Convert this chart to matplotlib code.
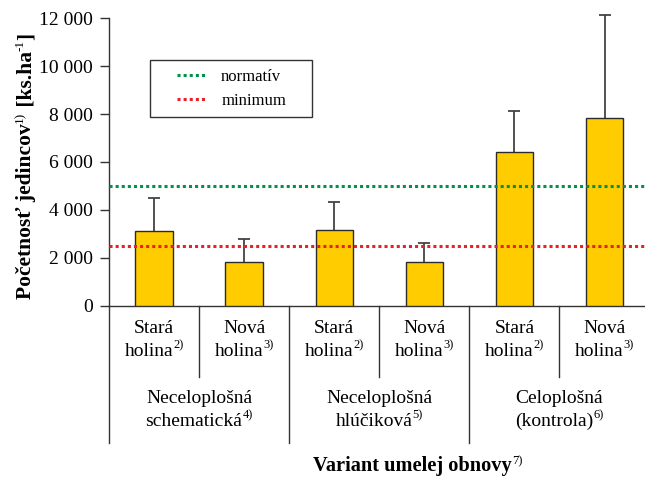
import matplotlib
matplotlib.use("Agg")
import matplotlib.pyplot as plt
from matplotlib.patches import Rectangle
import numpy as np

plt.rcParams['font.family'] = ['Liberation Serif', 'DejaVu Serif']

# ---- data ----
sub_line1 = ["Stará", "Nová", "Stará", "Nová", "Stará", "Nová"]
sub_line2 = ["holina", "holina", "holina", "holina", "holina", "holina"]
sub_sup = ["2)", "3)", "2)", "3)", "2)", "3)"]
group_line1 = ["Neceloplošná", "Neceloplošná", "Celoplošná"]
group_line2 = ["schematická", "hlúčiková", "(kontrola)"]
group_sup = ["4)", "5)", "6)"]
values = [3120, 1820, 3180, 1820, 6420, 7850]
upper_err = [1370, 980, 1170, 790, 1690, 4290]
normativ = 5000
minimum = 2500
yticks = [0, 2000, 4000, 6000, 8000, 10000, 12000]
ytick_labels = ["0", "2 000", "4 000", "6 000", "8 000", "10 000", "12 000"]
legend_labels = ["normatív", "minimum"]
ylabel_pieces = [("Početnosť jedincov", False), ("1)", True), (" [ks.ha", False),
                 ("-1", True), ("]", False)]
xlabel_pieces = [("Variant umelej obnovy", False), ("7)", True)]

W, H = 645, 482
fig = plt.figure(figsize=(W / 100, H / 100), dpi=100)
ax = fig.add_axes([109 / W, 176 / H, 536 / W, 288 / H])
renderer = fig.canvas.get_renderer()

x = np.arange(len(values))
ax.bar(x, values, width=0.416, color='#FFCC00', edgecolor='#2b2b2b',
       linewidth=1.0, zorder=3)
eb = ax.errorbar(x, values, yerr=[np.zeros(len(values)), upper_err], fmt='none',
                 ecolor='#444444', elinewidth=1.3, capsize=4.3, capthick=1.3,
                 zorder=2)
for child in eb.get_children():
    child.set_clip_on(False)
for cl in eb[1]:
    if np.allclose(cl.get_ydata(), values):
        cl.set_visible(False)

ax.axhline(normativ, color='#00924A', linestyle=(0, (1, 1)), linewidth=2.2,
           dash_capstyle='butt', zorder=4, label=legend_labels[0])
ax.axhline(minimum, color='#E8202A', linestyle=(0, (1, 1)), linewidth=2.2,
           dash_capstyle='butt', zorder=4, label=legend_labels[1])

ax.set_xlim(-0.5, 5.449)
ax.set_ylim(0, 12000)
ax.set_yticks(yticks)
ax.set_yticklabels(ytick_labels)
ax.set_xticks([])
ax.tick_params(axis='y', direction='out', length=6.5, width=1.0, pad=5,
               labelsize=14, color='#333333')
for s in ['top', 'right']:
    ax.spines[s].set_visible(False)
for s in ['left', 'bottom']:
    ax.spines[s].set_color('#333333')
    ax.spines[s].set_linewidth(1.0)

tr = ax.get_xaxis_transform()
for xs in [-0.5, 1.5, 3.5]:
    ax.plot([xs, xs], [0, -0.476], transform=tr, color='#333333', lw=1.0,
            clip_on=False)
for xs in [0.5, 2.5, 4.5]:
    ax.plot([xs, xs], [0, -0.2465], transform=tr, color='#333333', lw=1.0,
            clip_on=False)


def measure(s, size, weight):
    t = fig.text(0, 0, s, fontsize=size, fontweight=weight)
    w = t.get_window_extent(renderer).width
    t.remove()
    return w


def rich(pieces, along, base, size, weight, sup_size=9, raise_px=7.5, rot=0):
    """along: centre along reading direction (px, top-left origin);
    base: baseline position perpendicular (px)."""
    specs = []
    for s, sup in pieces:
        sz = sup_size if sup else size
        wt = 'normal' if sup else weight
        specs.append((s, sup, sz, wt, measure(s, sz, wt)))
    total = sum(sp[4] for sp in specs)
    pos = along - total / 2 if rot == 0 else along + total / 2
    for s, sup, sz, wt, w in specs:
        r = raise_px if sup else 0
        if rot == 0:
            fig.text(pos / W, 1 - (base - r) / H, s, fontsize=sz, fontweight=wt,
                     ha='left', va='baseline')
            pos += w
        else:
            fig.text((base - r) / W, 1 - pos / H, s, fontsize=sz, fontweight=wt,
                     rotation=90, rotation_mode='anchor', ha='left',
                     va='baseline')
            pos -= w


def cx(v):
    return ax.transData.transform((v, 0))[0]


for i in range(len(values)):
    rich([(sub_line1[i], False)], cx(i), 333, 14, 'normal')
    rich([(sub_line2[i], False), (sub_sup[i], True)], cx(i), 356, 14, 'normal')
for g in range(3):
    rich([(group_line1[g], False)], cx(2 * g + 0.5), 403, 14, 'normal')
    rich([(group_line2[g], False), (group_sup[g], True)], cx(2 * g + 0.5), 426,
         14, 'normal')

rich(ylabel_pieces, 166, 31.5, 15.5, 'bold', sup_size=9.5, raise_px=8.5, rot=90)
rich(xlabel_pieces, 417.5, 471.5, 14.7, 'bold', sup_size=9, raise_px=7.5)

# legend
ax.add_patch(Rectangle((150 / W, 1 - 117 / H), 162 / W, 57 / H,
                       transform=fig.transFigure, facecolor='white',
                       edgecolor='#333333', linewidth=1.0, zorder=5,
                       clip_on=False))
leg = ax.legend(loc='center left', bbox_to_anchor=(177 / W, 1 - 89 / H),
                bbox_transform=fig.transFigure, frameon=False, fontsize=12,
                handlelength=1.8, handletextpad=0.85, labelspacing=0.5,
                borderpad=0, borderaxespad=0)
leg.set_zorder(6)

fig.savefig("out.png", dpi=100)
